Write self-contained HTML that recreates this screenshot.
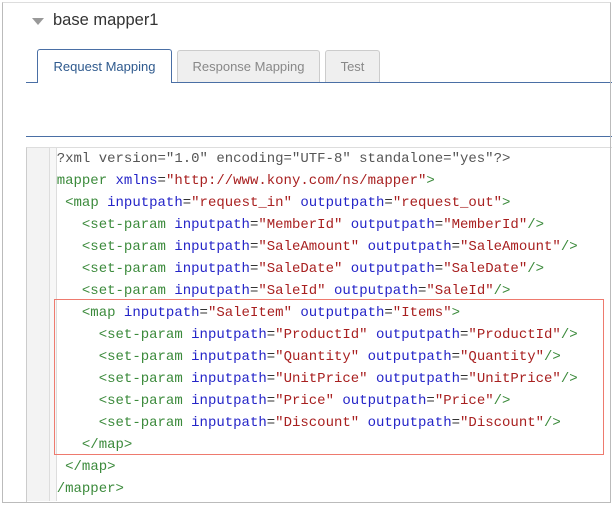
<!DOCTYPE html>
<html><head><meta charset="utf-8"><style>
body{margin:0;width:612px;height:506px;background:#fff;position:relative;overflow:hidden;font-family:"Liberation Sans",sans-serif}
.a{position:absolute}
.code{position:absolute;left:48.3px;top:148px;font-family:"Liberation Mono",monospace;font-size:14px;line-height:22px;white-space:pre;color:#333}
.t{color:#3b8a3b}.k{color:#2424c8}.v{color:#a82020}.e{color:#555}
</style></head><body>
<div class="a" style="left:26px;top:147px;width:590px;height:354px;border-top:1px solid #ddd;border-left:1px solid #ccc"></div>
<div class="a" style="left:32px;top:18px;width:0;height:0;border-left:6px solid transparent;border-right:6px solid transparent;border-top:7px solid #999"></div>
<div class="a" style="left:53px;top:11px;font-size:16.5px;color:#333">base mapper1</div>
<div class="a" style="left:26px;top:82px;width:590px;border-top:1px solid #4a6fa5"></div>
<div class="a" style="left:37px;top:49px;width:133px;height:33px;border:1px solid #4a6fa5;border-bottom:none;border-radius:3px 3px 0 0;background:#fff;font-size:13px;color:#2f5a8e;text-align:center;line-height:33px">Request Mapping</div>
<div class="a" style="left:177px;top:50px;width:141px;height:31px;border:1px solid #ccc;border-bottom:none;border-radius:3px 3px 0 0;background:#efefef;font-size:13px;color:#888;text-align:center;line-height:31px">Response Mapping</div>
<div class="a" style="left:325px;top:50px;width:53px;height:31px;border:1px solid #ccc;border-bottom:none;border-radius:3px 3px 0 0;background:#efefef;font-size:13px;color:#888;text-align:center;line-height:31px">Test</div>
<div class="a" style="left:26px;top:136px;width:590px;border-top:1px solid #4a6fa5"></div>
<div class="code"><span class="e">&lt;?xml version="1.0" encoding="UTF-8" standalone="yes"?&gt;</span>
<span class="t">&lt;mapper</span> <span class="k">xmlns</span>=<span class="v">"http://www.kony.com/ns/mapper"</span><span class="t">&gt;</span>
  <span class="t">&lt;map</span> <span class="k">inputpath</span>=<span class="v">"request_in"</span> <span class="k">outputpath</span>=<span class="v">"request_out"</span><span class="t">&gt;</span>
    <span class="t">&lt;set-param</span> <span class="k">inputpath</span>=<span class="v">"MemberId"</span> <span class="k">outputpath</span>=<span class="v">"MemberId"</span><span class="t">/&gt;</span>
    <span class="t">&lt;set-param</span> <span class="k">inputpath</span>=<span class="v">"SaleAmount"</span> <span class="k">outputpath</span>=<span class="v">"SaleAmount"</span><span class="t">/&gt;</span>
    <span class="t">&lt;set-param</span> <span class="k">inputpath</span>=<span class="v">"SaleDate"</span> <span class="k">outputpath</span>=<span class="v">"SaleDate"</span><span class="t">/&gt;</span>
    <span class="t">&lt;set-param</span> <span class="k">inputpath</span>=<span class="v">"SaleId"</span> <span class="k">outputpath</span>=<span class="v">"SaleId"</span><span class="t">/&gt;</span>
    <span class="t">&lt;map</span> <span class="k">inputpath</span>=<span class="v">"SaleItem"</span> <span class="k">outputpath</span>=<span class="v">"Items"</span><span class="t">&gt;</span>
      <span class="t">&lt;set-param</span> <span class="k">inputpath</span>=<span class="v">"ProductId"</span> <span class="k">outputpath</span>=<span class="v">"ProductId"</span><span class="t">/&gt;</span>
      <span class="t">&lt;set-param</span> <span class="k">inputpath</span>=<span class="v">"Quantity"</span> <span class="k">outputpath</span>=<span class="v">"Quantity"</span><span class="t">/&gt;</span>
      <span class="t">&lt;set-param</span> <span class="k">inputpath</span>=<span class="v">"UnitPrice"</span> <span class="k">outputpath</span>=<span class="v">"UnitPrice"</span><span class="t">/&gt;</span>
      <span class="t">&lt;set-param</span> <span class="k">inputpath</span>=<span class="v">"Price"</span> <span class="k">outputpath</span>=<span class="v">"Price"</span><span class="t">/&gt;</span>
      <span class="t">&lt;set-param</span> <span class="k">inputpath</span>=<span class="v">"Discount"</span> <span class="k">outputpath</span>=<span class="v">"Discount"</span><span class="t">/&gt;</span>
    <span class="t">&lt;/map&gt;</span>
  <span class="t">&lt;/map&gt;</span>
<span class="t">&lt;/mapper&gt;</span></div>
<div class="a" style="left:27px;top:148px;width:22px;height:353px;background:#f3f3f3;border-right:1px solid #ddd"></div>
<div class="a" style="left:50px;top:148px;width:6px;height:353px;background:#f7f7f7;border-right:1px solid #ddd"></div>
<div class="a" style="left:54px;top:299px;width:548px;height:154px;border:1.5px solid #ee7a6e"></div>
<div class="a" style="left:2px;top:2px;width:607px;height:499px;border:1px solid #bbb;border-top-color:#ddd"></div>
</body></html>
